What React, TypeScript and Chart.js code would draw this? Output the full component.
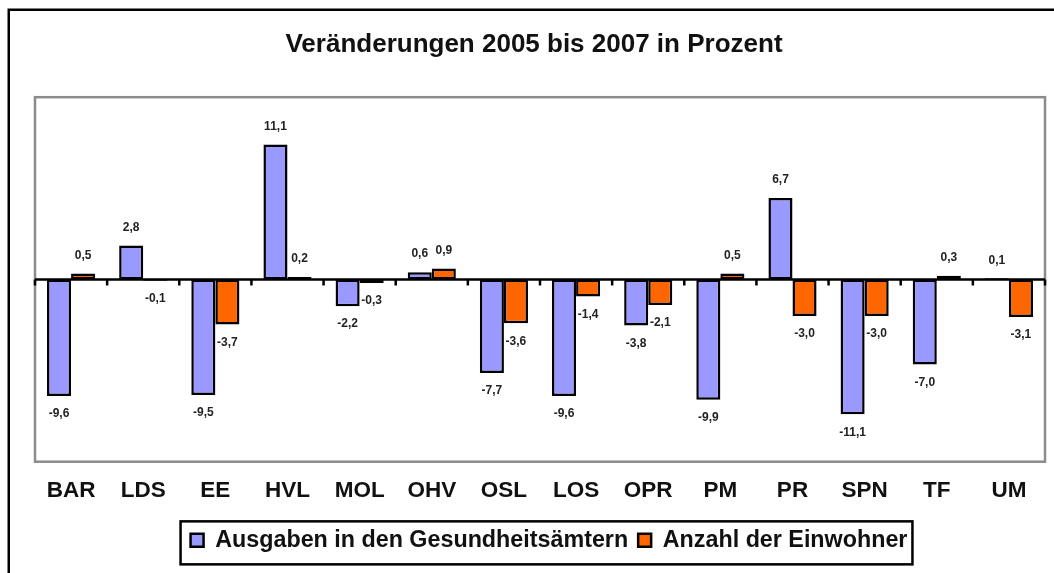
import React, { useEffect, useRef } from "react";
import { Chart, registerables } from "chart.js";

Chart.register(...registerables);

const categories = ["BAR", "LDS", "EE", "HVL", "MOL", "OHV", "OSL", "LOS", "OPR", "PM", "PR", "SPN", "TF", "UM"];
const ausgaben = [-9.6, 2.8, -9.5, 11.1, -2.2, 0.6, -7.7, -9.6, -3.8, -9.9, 6.7, -11.1, -7.0, 0.1];
const einwohner = [0.5, -0.1, -3.7, 0.2, -0.3, 0.9, -3.6, -1.4, -2.1, 0.5, -3.0, -3.0, 0.3, -3.1];
const seriesNames = ["Ausgaben in den Gesundheitsämtern", "Anzahl der Einwohner"];
const seriesColors = ["#9999ff", "#ff6600"];
const titleText = "Veränderungen 2005 bis 2007 in Prozent";
const yMin = -15;
const yMax = 15;

const FONT = "'Liberation Sans', Arial, sans-serif";

const fmt = (v: number) => v.toFixed(1).replace(".", ",");

const decorPlugin = {
  id: "decor",
  beforeDraw(chart: any) {
    const ctx = chart.ctx;
    ctx.save();
    ctx.fillStyle = "#ffffff";
    ctx.fillRect(0, 0, chart.width, chart.height);
    ctx.strokeStyle = "#000";
    ctx.lineWidth = 2.5;
    ctx.beginPath();
    ctx.moveTo(8.75, chart.height + 5);
    ctx.lineTo(8.75, 9.75);
    ctx.lineTo(chart.width + 5, 9.75);
    ctx.stroke();
    ctx.restore();
  },
  afterLayout(chart: any) {
    const lg = chart.legend;
    if (lg) {
      lg.left += 9;
      lg.right += 9;
    }
    const tb = chart.titleBlock;
    if (tb) {
      tb.left -= 6;
      tb.right -= 6;
    }
  },
  beforeDatasetsDraw(chart: any) {
    const ctx = chart.ctx;
    const { left, right, top, bottom } = chart.chartArea;
    ctx.save();
    ctx.strokeStyle = "#8c8c8c";
    ctx.lineWidth = 2.5;
    ctx.strokeRect(left, top, right - left, bottom - top);
    ctx.restore();
  },
  afterDatasetsDraw(chart: any) {
    const ctx = chart.ctx;
    const { left, right } = chart.chartArea;
    const xs = chart.scales.x;
    const y0 = chart.scales.y.getPixelForValue(0);
    ctx.save();
    ctx.strokeStyle = "#000";
    ctx.lineWidth = 2.5;
    ctx.beginPath();
    ctx.moveTo(left, y0);
    ctx.lineTo(right, y0);
    const n = categories.length;
    for (let i = 0; i <= n; i++) {
      let x: number;
      if (i === 0) x = left;
      else if (i === n) x = right;
      else x = (xs.getPixelForValue(i - 1) + xs.getPixelForValue(i)) / 2;
      ctx.moveTo(x, y0);
      ctx.lineTo(x, y0 + 6);
    }
    ctx.stroke();

    ctx.fillStyle = "#222";
    ctx.font = `bold 12px ${FONT}`;
    ctx.textAlign = "center";
    ctx.textBaseline = "middle";
    chart.data.datasets.forEach((ds: any, di: number) => {
      const meta = chart.getDatasetMeta(di);
      meta.data.forEach((el: any, i: number) => {
        const v = ds.data[i];
        const y = v >= 0 ? el.y - 18 : el.y + 18;
        ctx.fillText(fmt(v), el.x, y);
      });
    });
    ctx.restore();
  },
  afterDraw(chart: any) {
    const lg = chart.legend;
    if (!lg || !lg.legendHitBoxes || !lg.legendHitBoxes.length) return;
    const hb = lg.legendHitBoxes;
    const first = hb[0];
    const last = hb[hb.length - 1];
    const c = first.top + first.height / 2;
    const ctx = chart.ctx;
    ctx.save();
    ctx.strokeStyle = "#000";
    ctx.lineWidth = 2.5;
    const l = first.left - 10;
    const r = last.left + last.width + 5;
    ctx.strokeRect(l, c - 19, r - l, 43);
    ctx.restore();
  },
};

export default function App() {
  const ref = useRef<HTMLCanvasElement | null>(null);

  useEffect(() => {
    document.body.style.margin = "0";
    const canvas = ref.current;
    if (!canvas) return;
    const chart = new Chart(canvas, {
      type: "bar",
      data: {
        labels: categories,
        datasets: [
          {
            label: seriesNames[0],
            data: ausgaben,
            backgroundColor: seriesColors[0],
            borderColor: "#000",
            borderWidth: 2.5,
            borderSkipped: false,
            categoryPercentage: 0.667,
            barPercentage: 1,
          },
          {
            label: seriesNames[1],
            data: einwohner,
            backgroundColor: seriesColors[1],
            borderColor: "#000",
            borderWidth: 2.5,
            borderSkipped: false,
            categoryPercentage: 0.667,
            barPercentage: 1,
          },
        ],
      },
      options: {
        responsive: false,
        animation: false,
        layout: { padding: { left: 35, right: 9, top: 0, bottom: 11 } },
        plugins: {
          title: {
            display: true,
            text: titleText,
            color: "#111",
            font: { family: FONT, size: 26, weight: "bold" },
            padding: { top: 29, bottom: 37 },
          },
          legend: {
            display: true,
            position: "bottom",
            labels: {
              color: "#111",
              font: { family: FONT, size: 23.3, weight: "bold" },
              boxWidth: 13,
              boxHeight: 13,
              padding: 10,
            },
          },
          tooltip: { enabled: false },
        },
        scales: {
          x: {
            grid: { display: false, drawTicks: false },
            border: { display: false },
            ticks: {
              color: "#111",
              font: { family: FONT, size: 22.5, weight: "bold" },
              padding: 16,
              maxRotation: 0,
              autoSkip: false,
            },
            afterFit: (scale: any) => {
              scale.height = 57;
            },
          },
          y: {
            display: false,
            min: yMin,
            max: yMax,
          },
        },
      },
      plugins: [decorPlugin],
    });
    return () => chart.destroy();
  }, []);

  return (
    <div style={{ width: 1054, height: 573 }}>
      <canvas ref={ref} width={1054} height={573} />
    </div>
  );
}
